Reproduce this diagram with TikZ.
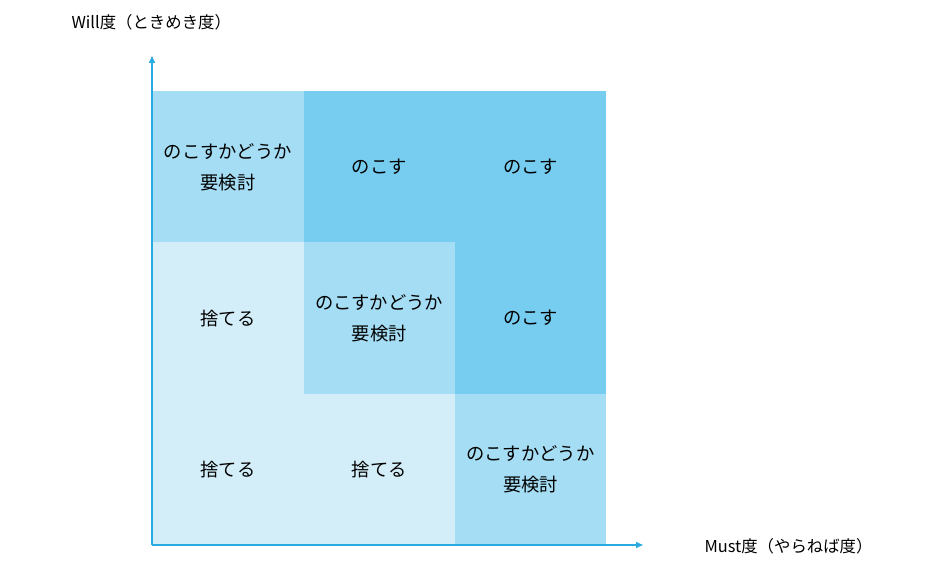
\documentclass[tikz,border=0pt]{standalone}
\usepackage{fontspec}
\setmainfont{Noto Sans CJK JP}
\usetikzlibrary{arrows.meta}
\definecolor{cLight}{HTML}{D4EEF9}
\definecolor{cMid}{HTML}{A4DDF4}
\definecolor{cDark}{HTML}{77CDF0}
\definecolor{cAxis}{HTML}{29ABE2}
\begin{document}
\begin{tikzpicture}[x=1pt,y=-1pt,
  cell/.style={draw=none,minimum width=151.3pt,minimum height=151.3pt,inner sep=0pt,anchor=north west,align=center,font=\fontsize{18.3}{31}\selectfont,text=black},
  axis/.style={draw=cAxis,line width=1.6pt,-{Triangle[width=6pt,length=7pt]}},
  axlabel/.style={font=\fontsize{16.4}{20}\selectfont,text=black}]
\useasboundingbox (0,0) rectangle (945,569);
% row 1
\node[cell,fill=cMid]  (c11) at (152,91) {のこすかどうか\\要検討};
\node[cell,fill=cDark] (c12) at (303.3,91) {のこす};
\node[cell,fill=cDark] (c13) at (454.6,91) {のこす};
% row 2
\node[cell,fill=cLight] (c21) at (152,242.3) {捨てる};
\node[cell,fill=cMid]   (c22) at (303.3,242.3) {のこすかどうか\\要検討};
\node[cell,fill=cDark]  (c23) at (454.6,242.3) {のこす};
% row 3
\node[cell,fill=cLight] (c31) at (152,393.6) {捨てる};
\node[cell,fill=cLight] (c32) at (303.3,393.6) {捨てる};
\node[cell,fill=cMid]   (c33) at (454.6,393.6) {のこすかどうか\\要検討};
% axes
\coordinate (o) at (152,545);
\coordinate (ytip) at (152,56);
\coordinate (xtip) at (643,545);
\draw[axis] (o) -- (ytip);
\draw[axis] (o) -- (xtip);
\node[axlabel,anchor=west] (ylab) at (68,22) {Will度（ときめき度）};
\node[axlabel,anchor=west] (xlab) at (701,546) {Must度（やらねば度）};
\end{tikzpicture}
\end{document}
